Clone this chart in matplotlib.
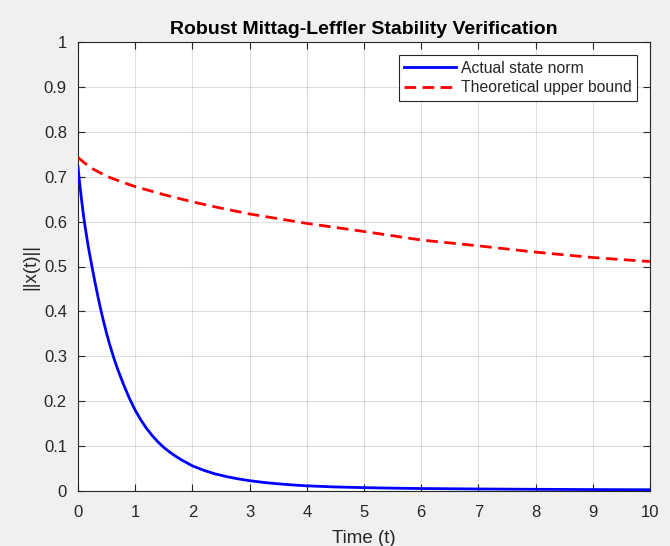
import matplotlib
matplotlib.use("Agg")
import matplotlib.pyplot as plt

# ---- data ----
t_actual = [0, 0.025, 0.05, 0.075, 0.1, 0.125, 0.15, 0.175, 0.2, 0.25, 0.3, 0.35,
            0.4, 0.45, 0.5, 0.55, 0.6, 0.65, 0.7, 0.8, 0.9, 1.0, 1.1, 1.2, 1.3,
            1.4, 1.5, 1.6, 1.7, 1.8, 1.9, 2.0, 2.2, 2.4, 2.6, 2.8, 3.0, 3.25, 3.5,
            3.75, 4.0, 4.5, 5.0, 5.5, 6.0, 7.0, 8.0, 9.0, 10.0]
x_actual = [0.722, 0.69, 0.662, 0.635, 0.61, 0.588, 0.568, 0.548, 0.53, 0.496,
            0.463, 0.432, 0.403, 0.376, 0.351, 0.328, 0.307, 0.287, 0.269, 0.236,
            0.206, 0.180, 0.158, 0.139, 0.123, 0.109, 0.097, 0.087, 0.078, 0.070,
            0.063, 0.056, 0.046, 0.038, 0.032, 0.027, 0.023, 0.019, 0.016, 0.0135,
            0.0115, 0.009, 0.0075, 0.0063, 0.0055, 0.0045, 0.0038, 0.0032, 0.0028]

t_bound = [0, 0.1, 0.25, 0.5, 0.75, 1, 1.5, 2, 2.5, 3, 4, 5, 6, 7, 8, 9, 10]
x_bound = [0.743, 0.732, 0.718, 0.701, 0.689, 0.678, 0.660, 0.644, 0.630, 0.617,
           0.596, 0.578, 0.559, 0.546, 0.532, 0.520, 0.511]

xticks = list(range(0, 11))
yticks = [0, 0.1, 0.2, 0.3, 0.4, 0.5, 0.6, 0.7, 0.8, 0.9, 1]
ytick_labels = ["0", "0.1", "0.2", "0.3", "0.4", "0.5", "0.6", "0.7", "0.8", "0.9", "1"]

title = "Robust Mittag-Leffler Stability Verification"
xlabel = "Time (t)"
ylabel = "||x(t)||"
labels = ["Actual state norm", "Theoretical upper bound"]

# ---- styling ----
plt.rcParams['font.family'] = ['Liberation Sans', 'DejaVu Sans']
txt = '#262626'
axc = '#262626'

fig = plt.figure(figsize=(6.7, 5.46), dpi=100, facecolor='#f0f0f0')
ax = fig.add_axes([78/670, 55/546, 572/670, 449/546])
ax.set_facecolor('white')

ax.plot(t_actual, x_actual, color='#0000ff', lw=2.0, label=labels[0], zorder=3)
ax.plot(t_bound, x_bound, color='#ff0000', lw=2.0, ls=(0, (4.2, 2.3)), label=labels[1], zorder=3)

ax.set_xlim(0, 10)
ax.set_ylim(0, 1)
ax.set_xticks(xticks)
ax.set_yticks(yticks)
ax.set_yticklabels(ytick_labels)
ax.grid(True, color='#262626', alpha=0.15, lw=0.8)
ax.set_axisbelow(True)

ax.tick_params(direction='in', length=5, width=0.8, colors=axc, labelcolor=txt,
               labelsize=12, top=True, right=True, pad=8)
ax.tick_params(axis='x', pad=10)
for s in ax.spines.values():
    s.set_color(axc)
    s.set_linewidth(0.8)

ax.set_title(title, fontsize=14, fontweight='bold', color='black', pad=6)
ax.set_xlabel(xlabel, fontsize=13.5, color=txt, labelpad=7)
ax.set_ylabel(ylabel, fontsize=13.5, color=txt, labelpad=3)

leg = ax.legend(loc='upper right', bbox_to_anchor=(0.977, 0.971), fontsize=11.3,
                frameon=True, fancybox=False, edgecolor='#262626', framealpha=1,
                handlelength=3.3, borderpad=0.35, labelspacing=0.3, handletextpad=0.3,
                borderaxespad=0)
leg.get_frame().set_linewidth(0.8)
for t in leg.get_texts():
    t.set_color(txt)

fig.savefig("out.png", dpi=100, facecolor=fig.get_facecolor())
